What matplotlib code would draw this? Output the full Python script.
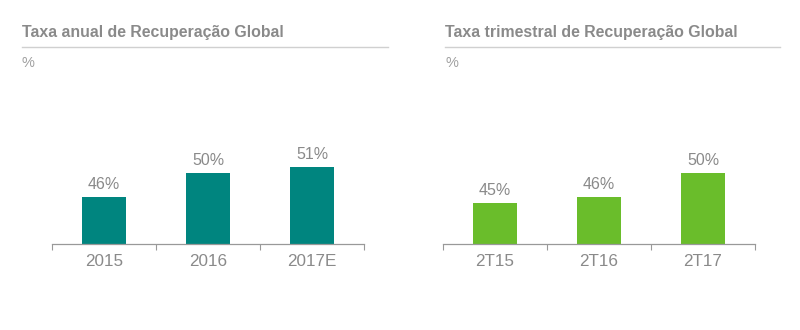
import numpy as np
import matplotlib
matplotlib.use('Agg')
import matplotlib.pyplot as plt
from matplotlib.lines import Line2D

plt.rcParams['font.family'] = ['Liberation Sans', 'DejaVu Sans']

# Dados
anos = ['2015', '2016', '2017E']
taxa_anual = [46, 50, 51]
trimestres = ['2T15', '2T16', '2T17']
taxa_trimestral = [45, 46, 50]

W, H = 800, 330
fig = plt.figure(figsize=(8, 3.3), dpi=100)
fig.patch.set_facecolor('white')

def px(x0, y0, w, h):
    # caixa em pixels (origem no topo) -> fração da figura
    return [x0 / W, (H - y0 - h) / H, w / W, h / H]

def cabecalho(x0, titulo, x_linha_fim):
    fig.text(x0 / W, 1 - 32 / H, titulo, fontsize=11.4, fontweight='bold',
             color='#8a8a8a', va='center', ha='left')
    fig.add_artist(Line2D([x0 / W, x_linha_fim / W], [1 - 47 / H] * 2,
                          color='#d0d0d0', lw=1, transform=fig.transFigure))
    fig.text(x0 / W, 1 - 63 / H, '%', fontsize=10.5, color='#a0a0a0',
             va='center', ha='left')

def barras(ax, cats, vals, cor):
    x = np.arange(len(cats))
    ax.bar(x, vals, width=0.42, color=cor, zorder=2)
    for xi, v in zip(x, vals):
        ax.text(xi, v + 0.9, '%d%%' % v, ha='center', va='bottom',
                fontsize=11.5, color='#8a8a8a')
    ax.set_ylim(38.2, 58.9)
    ax.set_xlim(-0.5, len(cats) - 0.5)
    ax.set_xticks(x)
    ax.set_xticklabels(cats, fontsize=12.3, color='#8a8a8a')
    ax.set_xticks(np.arange(-0.5, len(cats)), minor=True)
    ax.tick_params(axis='x', which='major', length=0, pad=7)
    ax.tick_params(axis='x', which='minor', length=4, color='#999999',
                   width=0.8, direction='out')
    ax.set_yticks([])
    for s in ['top', 'right', 'left']:
        ax.spines[s].set_visible(False)
    ax.spines['bottom'].set_color('#999999')
    ax.spines['bottom'].set_linewidth(0.9)
    ax.set_facecolor('none')

cabecalho(22, 'Taxa anual de Recuperação Global', 388)
cabecalho(445, 'Taxa trimestral de Recuperação Global', 780)

ax1 = fig.add_axes(px(52, 120, 312, 124))
barras(ax1, anos, taxa_anual, '#00857f')

ax2 = fig.add_axes(px(443, 120, 312, 124))
barras(ax2, trimestres, taxa_trimestral, '#6abd2b')

fig.savefig('out.png', dpi=100)
